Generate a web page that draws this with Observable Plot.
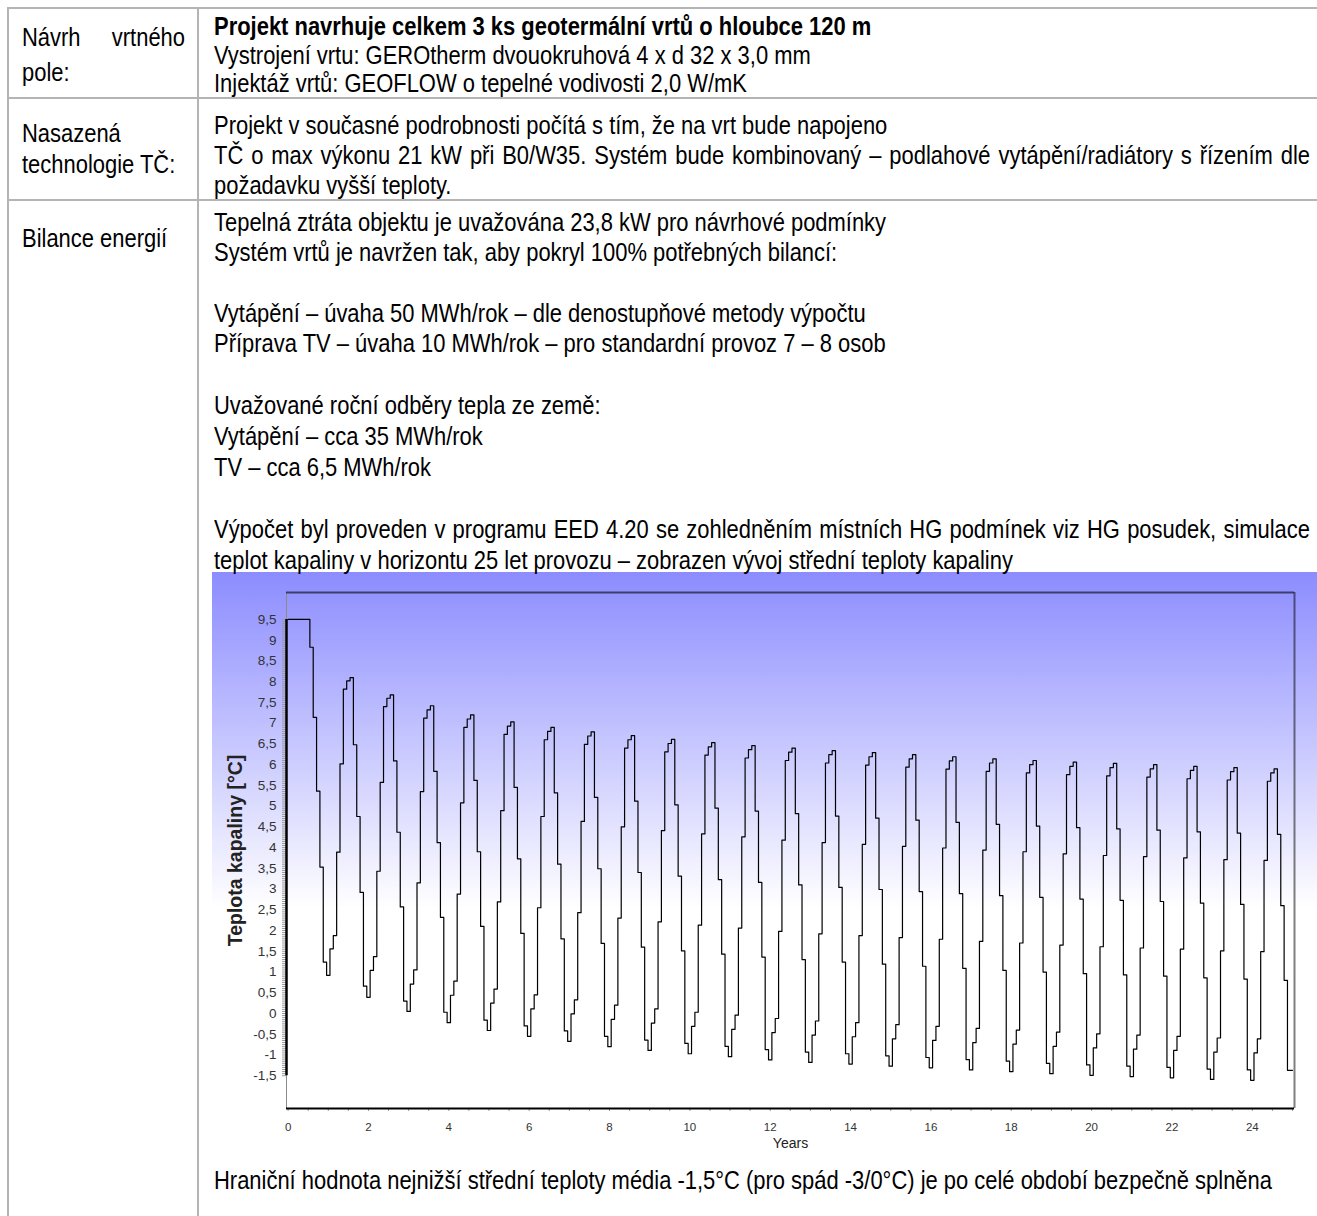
<!DOCTYPE html>
<html lang="cs"><head><meta charset="utf-8">
<script src="https://cdn.jsdelivr.net/npm/d3@7"></script>
<script src="https://cdn.jsdelivr.net/npm/@observablehq/plot@0.6"></script>
<style>
html,body{margin:0;padding:0;background:#fff;}
body{width:1317px;height:1216px;position:relative;overflow:hidden;font-family:"Liberation Sans",Arial,sans-serif;color:#000;}
.hl{position:absolute;height:2px;background:#b4b4b4;}
.vl{position:absolute;width:2px;background:#b4b4b4;}
.t{position:absolute;font-size:26.5px;line-height:20px;white-space:nowrap;transform:scaleX(0.828);transform-origin:0 0;}
.j{text-align:justify;text-align-last:justify;white-space:normal;}
#chart{position:absolute;left:212px;top:572px;width:1105px;height:590px;}
</style></head><body>
<div id="chart"></div>
<div class="hl" style="left:8px;top:7px;width:1309px"></div>
<div class="hl" style="left:8px;top:97px;width:1309px"></div>
<div class="hl" style="left:8px;top:199px;width:1309px"></div>
<div class="vl" style="left:7px;top:7px;height:1209px"></div>
<div class="vl" style="left:197px;top:7px;height:1209px"></div>
<script>
// ---- chart data: monthly mean fluid temperature [°C], one array per simulated year ----
const y00 = [9.5,9.5,9.5,9.5,9.5,9.5,9.5,8.83,7.14,5.36,3.53,1.24];
const y01 = [0.92,1.56,1.88,3.89,6.02,7.82,8.02,8.10,6.48,4.75,2.92,0.66];
const y02 = [0.39,1.04,1.37,3.43,5.57,7.40,7.60,7.68,6.09,4.37,2.57,0.30];
const y03 = [0.05,0.71,1.05,3.15,5.35,7.12,7.32,7.42,5.84,4.12,2.32,0.03];
const y04 = [-0.22,0.44,0.78,2.88,5.08,6.90,7.10,7.20,5.62,3.90,2.10,-0.16];
const y05 = [-0.41,0.25,0.59,2.69,4.89,6.73,6.93,7.03,5.45,3.73,1.93,-0.30];
const y06 = [-0.55,0.11,0.45,2.55,4.75,6.60,6.80,6.90,5.32,3.60,1.80,-0.42];
const y07 = [-0.67,-0.01,0.33,2.43,4.63,6.49,6.69,6.79,5.21,3.49,1.69,-0.55];
const y08 = [-0.80,-0.14,0.20,2.30,4.50,6.40,6.60,6.70,5.12,3.40,1.60,-0.64];
const y09 = [-0.89,-0.23,0.11,2.21,4.41,6.31,6.51,6.61,5.03,3.31,1.51,-0.72];
const y10 = [-0.97,-0.31,0.03,2.13,4.33,6.23,6.43,6.53,4.95,3.23,1.43,-0.79];
const y11 = [-1.04,-0.38,-0.04,2.06,4.26,6.16,6.36,6.46,4.88,3.16,1.36,-0.87];
const y12 = [-1.12,-0.46,-0.12,1.98,4.18,6.10,6.30,6.40,4.82,3.10,1.30,-0.93];
const y13 = [-1.18,-0.52,-0.18,1.92,4.12,6.04,6.24,6.34,4.76,3.04,1.24,-0.97];
const y14 = [-1.22,-0.56,-0.22,1.88,4.08,5.99,6.19,6.29,4.71,2.99,1.19,-1.02];
const y15 = [-1.27,-0.61,-0.27,1.83,4.03,5.94,6.14,6.24,4.66,2.94,1.14,-1.06];
const y16 = [-1.31,-0.65,-0.31,1.79,3.99,5.89,6.09,6.19,4.61,2.89,1.09,-1.11];
const y17 = [-1.36,-0.70,-0.36,1.74,3.94,5.84,6.04,6.14,4.56,2.84,1.04,-1.15];
const y18 = [-1.40,-0.74,-0.40,1.70,3.90,5.80,6.00,6.10,4.52,2.80,1.00,-1.20];
const y19 = [-1.45,-0.79,-0.45,1.65,3.85,5.76,5.96,6.06,4.48,2.76,0.96,-1.24];
const y20 = [-1.49,-0.83,-0.49,1.61,3.81,5.73,5.93,6.03,4.45,2.73,0.93,-1.27];
const y21 = [-1.52,-0.86,-0.52,1.58,3.78,5.70,5.90,6.00,4.42,2.70,0.90,-1.30];
const y22 = [-1.55,-0.89,-0.55,1.55,3.75,5.66,5.86,5.96,4.38,2.66,0.86,-1.34];
const y23 = [-1.59,-0.93,-0.59,1.51,3.71,5.63,5.83,5.93,4.35,2.63,0.83,-1.36];
const y24 = [-1.61,-0.95,-0.61,1.49,3.69,5.60,5.80,5.90,4.32,2.60,0.80,-1.37];

const yTickValues = [-1.5,-1,-0.5,0,0.5,1,1.5,2,2.5,3,3.5,4,4.5,5,5.5,6,6.5,7,7.5,8,8.5,9,9.5];
const xTickValues = [0,2,4,6,8,10,12,14,16,18,20,22,24];
const xLabel = "Years";
const yLabel = "Teplota kapaliny [°C]";

// ---- build series ----
const yearsData = [y00,y01,y02,y03,y04,y05,y06,y07,y08,y09,y10,y11,y12,y13,y14,y15,y16,y17,y18,y19,y20,y21,y22,y23,y24];
const monthly = yearsData.flat();
const series = monthly.map((v, i) => ({t: i / 12, v}));
series.push({t: 25, v: monthly[monthly.length - 1]}); // hold last month to the end of the horizon

const xDomain = [-0.04, 25.05];
const yDomain = [-2.29, 10.15];
const yMinor = d3.range(-30, 191).map(i => i / 20);
const xMinor = d3.range(0, 51).map(i => i / 2);

const chart = Plot.plot({
  width: 1105, height: 590,
  marginLeft: 74, marginRight: 23, marginTop: 20, marginBottom: 54,
  x: {domain: xDomain, label: null},
  y: {domain: yDomain, label: null},
  style: {
    background: "linear-gradient(180deg, rgb(140,140,255) 0%, rgb(255,255,255) 57%, rgb(255,255,255) 100%)",
    fontFamily: "'Liberation Sans', Arial, sans-serif",
    overflow: "visible"
  },
  marks: [
    Plot.ruleX([xDomain[0]], {stroke: "#8a8a8a", strokeWidth: 1}),
    Plot.ruleY([yDomain[1]], {stroke: "#000", strokeOpacity: 0.58, strokeWidth: 2}),
    Plot.ruleX([xDomain[1]], {stroke: "#000", strokeOpacity: 0.5, strokeWidth: 2}),
    Plot.axisY(yMinor, {tickSize: 4, fill: "none", stroke: "#9a9a9a", strokeWidth: 1, label: null}),
    Plot.ruleX([xDomain[0]], {y1: -1.5, y2: 9.5, stroke: "#000", strokeWidth: 2.5}),
    Plot.axisY(yTickValues, {tickSize: 0, tickPadding: 10, tickFormat: d => String(d).replace(".", ","), fontSize: 13.5, fill: "#333", label: null}),
    Plot.axisX(xMinor, {tickSize: 3, fill: "none", stroke: "#9a9a9a", label: null}),
    Plot.axisX(xTickValues, {tickSize: 0, tickPadding: 14, fontSize: 11.5, fill: "#333", label: null}),
    Plot.ruleY([yDomain[0]], {stroke: "#000", strokeWidth: 2}),
    Plot.line(series, {x: "t", y: "v", curve: "step", stroke: "#000", strokeWidth: 1.2}),
    Plot.text([xLabel], {text: d => d, frameAnchor: "bottom", dy: 39, fontSize: 14, fill: "#222"}),
    Plot.text([yLabel], {text: d => d, frameAnchor: "left", dx: -51, rotate: -90, textAnchor: "middle", fontSize: 19.5, fontWeight: "bold", fill: "#222"})
  ]
});
document.getElementById("chart").appendChild(chart);

// ---- document text (table cells) ----
const lines = [
  {x: 22, y: 37, w: 163, s: "Návrh vrtného"},
  {x: 22, y: 72, s: "pole:"},
  {x: 22, y: 133, s: "Nasazená"},
  {x: 22, y: 164, s: "technologie TČ:"},
  {x: 22, y: 238, s: "Bilance energií"},
  {x: 214, y: 26, b: true, s: "Projekt navrhuje celkem 3 ks geotermální vrtů o hloubce 120 m"},
  {x: 214, y: 55, s: "Vystrojení vrtu: GEROtherm dvouokruhová 4 x d 32 x 3,0 mm"},
  {x: 214, y: 83, s: "Injektáž vrtů: GEOFLOW o tepelné vodivosti 2,0 W/mK"},
  {x: 214, y: 125, s: "Projekt v současné podrobnosti počítá s tím, že na vrt bude napojeno"},
  {x: 214, y: 155, w: 1096, s: "TČ o max výkonu 21 kW při B0/W35. Systém bude kombinovaný – podlahové vytápění/radiátory s řízením dle"},
  {x: 214, y: 185, s: "požadavku vyšší teploty."},
  {x: 214, y: 222, s: "Tepelná ztráta objektu je uvažována 23,8 kW pro návrhové podmínky"},
  {x: 214, y: 252, s: "Systém vrtů je navržen tak, aby pokryl 100% potřebných bilancí:"},
  {x: 214, y: 313, s: "Vytápění – úvaha 50 MWh/rok – dle denostupňové metody výpočtu"},
  {x: 214, y: 343, s: "Příprava TV – úvaha 10 MWh/rok – pro standardní provoz 7 – 8 osob"},
  {x: 214, y: 405, s: "Uvažované roční odběry tepla ze země:"},
  {x: 214, y: 436, s: "Vytápění – cca 35 MWh/rok"},
  {x: 214, y: 467, s: "TV – cca 6,5 MWh/rok"},
  {x: 214, y: 529, w: 1096, s: "Výpočet byl proveden v programu EED 4.20 se zohledněním místních HG podmínek viz HG posudek, simulace"},
  {x: 214, y: 560, s: "teplot kapaliny v horizontu 25 let provozu – zobrazen vývoj střední teploty kapaliny"},
  {x: 214, y: 1180, s: "Hraniční hodnota nejnižší střední teploty média -1,5°C (pro spád -3/0°C) je po celé období bezpečně splněna"}
];
for (const L of lines) {
  const d = document.createElement("div");
  d.className = "t" + (L.w ? " j" : "");
  d.style.left = L.x + "px";
  d.style.top = (L.y - 10) + "px";
  if (L.w) d.style.width = (L.w / 0.828) + "px";
  if (L.b) d.style.fontWeight = "bold";
  d.textContent = L.s;
  document.body.appendChild(d);
}
</script>
</body></html>
